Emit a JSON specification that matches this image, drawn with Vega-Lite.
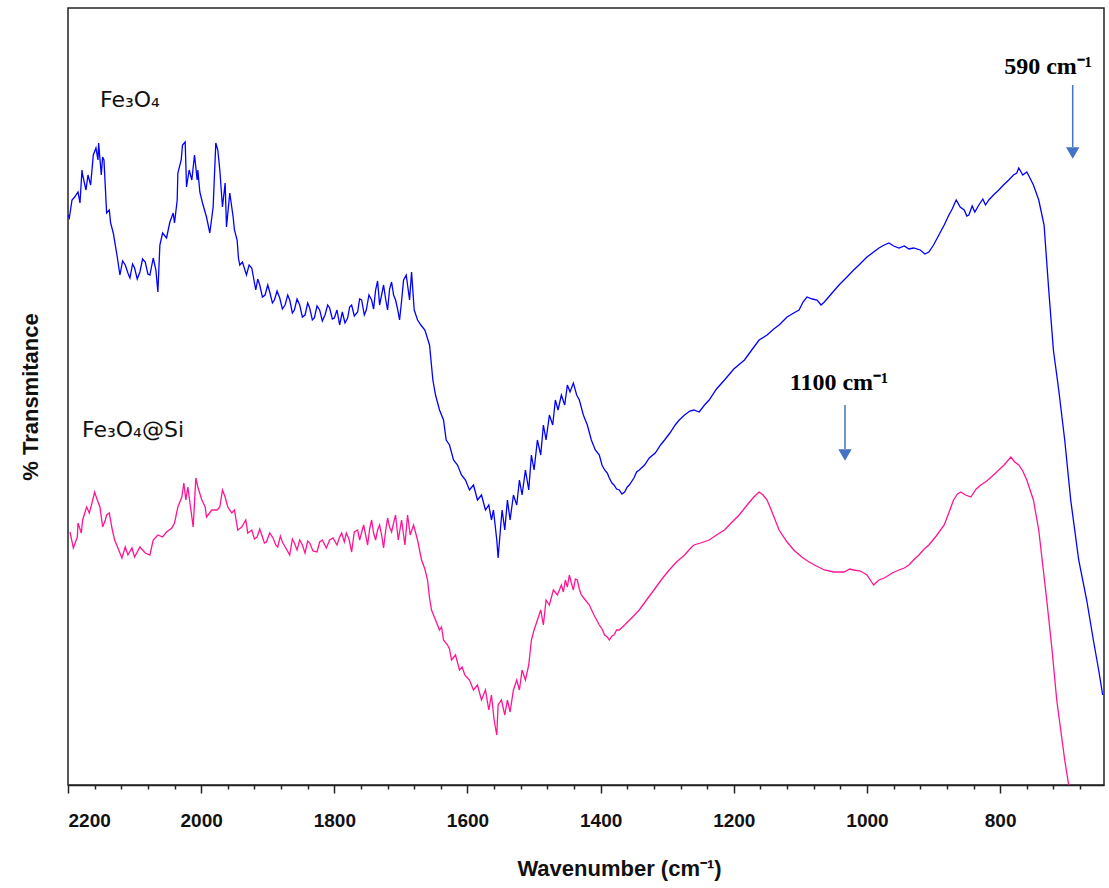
{
  "$schema": "https://vega.github.io/schema/vega-lite/v6.json",
  "autosize": "none",
  "width": 1036,
  "height": 777,
  "padding": {"left": 68, "top": 8, "right": 5, "bottom": 103},
  "background": "white",
  "config": {"view": {"stroke": "#222", "strokeWidth": 1.5}},
  "datasets": {
    "fe3o4": [
      {"wn":2200,"T":57.0},{"wn":2198,"T":56.7},{"wn":2194,"T":58.5},{"wn":2190,"T":58.8},{"wn":2185,"T":59.3},{"wn":2182,"T":58.2},{"wn":2179,"T":61.5},{"wn":2178,"T":61.0},{"wn":2173,"T":59.5},{"wn":2170,"T":61.0},{"wn":2166,"T":60.0},{"wn":2162,"T":63.0},{"wn":2158,"T":63.7},{"wn":2155,"T":62.5},{"wn":2154,"T":64.2},{"wn":2150,"T":61.0},{"wn":2148,"T":62.8},{"wn":2146,"T":62.5},{"wn":2142,"T":57.2},{"wn":2138,"T":57.5},{"wn":2136,"T":56.2},{"wn":2132,"T":55.2},{"wn":2126,"T":52.8},{"wn":2122,"T":51.0},{"wn":2118,"T":52.4},{"wn":2114,"T":52.0},{"wn":2110,"T":51.2},{"wn":2107,"T":50.7},{"wn":2103,"T":52.1},{"wn":2100,"T":51.7},{"wn":2096,"T":50.6},{"wn":2092,"T":51.3},{"wn":2088,"T":52.6},{"wn":2084,"T":52.3},{"wn":2080,"T":51.1},{"wn":2077,"T":51.0},{"wn":2072,"T":52.7},{"wn":2068,"T":51.5},{"wn":2065,"T":49.3},{"wn":2062,"T":54.0},{"wn":2058,"T":55.2},{"wn":2052,"T":54.7},{"wn":2047,"T":56.3},{"wn":2042,"T":57.2},{"wn":2040,"T":56.2},{"wn":2036,"T":58.5},{"wn":2035,"T":61.2},{"wn":2030,"T":62.5},{"wn":2028,"T":64.0},{"wn":2024,"T":64.3},{"wn":2022,"T":59.8},{"wn":2018,"T":61.5},{"wn":2014,"T":60.5},{"wn":2010,"T":63.0},{"wn":2006,"T":60.5},{"wn":2005,"T":61.5},{"wn":2002,"T":59.3},{"wn":1998,"T":58.2},{"wn":1992,"T":56.8},{"wn":1987,"T":55.2},{"wn":1982,"T":57.8},{"wn":1978,"T":64.2},{"wn":1975,"T":63.5},{"wn":1972,"T":61.5},{"wn":1968,"T":57.8},{"wn":1964,"T":60.2},{"wn":1962,"T":55.8},{"wn":1957,"T":59.2},{"wn":1952,"T":56.8},{"wn":1950,"T":55.5},{"wn":1946,"T":54.5},{"wn":1944,"T":52.7},{"wn":1942,"T":52.0},{"wn":1938,"T":52.3},{"wn":1932,"T":51.0},{"wn":1928,"T":52.0},{"wn":1924,"T":51.7},{"wn":1918,"T":49.5},{"wn":1915,"T":50.6},{"wn":1912,"T":50.0},{"wn":1908,"T":48.8},{"wn":1904,"T":49.0},{"wn":1900,"T":50.0},{"wn":1897,"T":49.3},{"wn":1893,"T":48.2},{"wn":1890,"T":48.5},{"wn":1886,"T":49.4},{"wn":1882,"T":48.7},{"wn":1878,"T":47.6},{"wn":1874,"T":48.0},{"wn":1870,"T":49.0},{"wn":1867,"T":48.5},{"wn":1863,"T":47.2},{"wn":1860,"T":47.5},{"wn":1856,"T":48.6},{"wn":1852,"T":48.0},{"wn":1848,"T":46.8},{"wn":1844,"T":47.0},{"wn":1840,"T":48.2},{"wn":1837,"T":47.7},{"wn":1833,"T":46.5},{"wn":1830,"T":46.7},{"wn":1826,"T":47.9},{"wn":1822,"T":47.5},{"wn":1818,"T":46.4},{"wn":1814,"T":47.0},{"wn":1810,"T":48.0},{"wn":1807,"T":47.7},{"wn":1803,"T":46.6},{"wn":1800,"T":46.7},{"wn":1796,"T":47.5},{"wn":1792,"T":46.0},{"wn":1788,"T":47.3},{"wn":1784,"T":46.2},{"wn":1780,"T":46.7},{"wn":1777,"T":47.8},{"wn":1774,"T":48.0},{"wn":1770,"T":46.9},{"wn":1765,"T":47.3},{"wn":1762,"T":48.6},{"wn":1759,"T":48.5},{"wn":1755,"T":47.0},{"wn":1752,"T":47.5},{"wn":1748,"T":49.0},{"wn":1744,"T":48.5},{"wn":1741,"T":47.6},{"wn":1738,"T":49.5},{"wn":1735,"T":50.4},{"wn":1732,"T":48.0},{"wn":1729,"T":49.0},{"wn":1726,"T":50.0},{"wn":1723,"T":48.6},{"wn":1720,"T":47.5},{"wn":1717,"T":49.6},{"wn":1714,"T":50.3},{"wn":1711,"T":49.0},{"wn":1708,"T":48.5},{"wn":1705,"T":47.6},{"wn":1702,"T":46.5},{"wn":1699,"T":48.4},{"wn":1696,"T":50.5},{"wn":1692,"T":51.0},{"wn":1687,"T":48.5},{"wn":1684,"T":51.3},{"wn":1680,"T":47.5},{"wn":1675,"T":46.5},{"wn":1670,"T":46.0},{"wn":1664,"T":45.5},{"wn":1657,"T":44.0},{"wn":1652,"T":40.5},{"wn":1648,"T":39.0},{"wn":1642,"T":37.5},{"wn":1636,"T":36.5},{"wn":1632,"T":34.5},{"wn":1627,"T":34.0},{"wn":1621,"T":32.5},{"wn":1615,"T":32.0},{"wn":1609,"T":31.0},{"wn":1603,"T":30.5},{"wn":1597,"T":29.5},{"wn":1591,"T":30.0},{"wn":1585,"T":28.5},{"wn":1579,"T":29.0},{"wn":1573,"T":27.5},{"wn":1568,"T":28.0},{"wn":1564,"T":26.5},{"wn":1561,"T":27.5},{"wn":1556,"T":24.5},{"wn":1554,"T":22.7},{"wn":1550,"T":26.0},{"wn":1548,"T":27.5},{"wn":1544,"T":25.5},{"wn":1540,"T":28.5},{"wn":1536,"T":26.5},{"wn":1531,"T":29.0},{"wn":1526,"T":28.0},{"wn":1522,"T":30.5},{"wn":1518,"T":29.0},{"wn":1513,"T":31.5},{"wn":1508,"T":29.5},{"wn":1504,"T":33.0},{"wn":1500,"T":31.5},{"wn":1495,"T":34.5},{"wn":1490,"T":33.0},{"wn":1486,"T":36.0},{"wn":1482,"T":34.5},{"wn":1477,"T":37.0},{"wn":1472,"T":36.0},{"wn":1468,"T":38.5},{"wn":1464,"T":37.5},{"wn":1459,"T":39.0},{"wn":1454,"T":38.0},{"wn":1450,"T":40.0},{"wn":1446,"T":39.3},{"wn":1441,"T":40.2},{"wn":1436,"T":39.0},{"wn":1432,"T":38.5},{"wn":1426,"T":37.0},{"wn":1420,"T":36.0},{"wn":1414,"T":34.5},{"wn":1408,"T":33.5},{"wn":1402,"T":33.0},{"wn":1398,"T":32.0},{"wn":1394,"T":31.5},{"wn":1390,"T":31.2},{"wn":1387,"T":30.7},{"wn":1383,"T":30.2},{"wn":1380,"T":30.0},{"wn":1376,"T":29.6},{"wn":1372,"T":29.5},{"wn":1368,"T":29.1},{"wn":1364,"T":29.3},{"wn":1360,"T":29.8},{"wn":1357,"T":30.0},{"wn":1350,"T":30.7},{"wn":1346,"T":31.3},{"wn":1342,"T":31.5},{"wn":1334,"T":32.0},{"wn":1327,"T":32.7},{"wn":1318,"T":33.2},{"wn":1310,"T":34.0},{"wn":1304,"T":34.5},{"wn":1296,"T":35.2},{"wn":1288,"T":36.0},{"wn":1282,"T":36.5},{"wn":1274,"T":37.0},{"wn":1266,"T":37.4},{"wn":1260,"T":37.5},{"wn":1252,"T":37.3},{"wn":1244,"T":38.0},{"wn":1237,"T":38.5},{"wn":1226,"T":39.6},{"wn":1214,"T":40.5},{"wn":1200,"T":41.6},{"wn":1184,"T":42.5},{"wn":1172,"T":43.6},{"wn":1162,"T":44.5},{"wn":1150,"T":45.0},{"wn":1140,"T":45.6},{"wn":1132,"T":46.0},{"wn":1120,"T":46.8},{"wn":1110,"T":47.2},{"wn":1102,"T":47.5},{"wn":1096,"T":48.3},{"wn":1090,"T":48.8},{"wn":1082,"T":48.6},{"wn":1075,"T":48.5},{"wn":1069,"T":48.0},{"wn":1064,"T":48.3},{"wn":1055,"T":49.0},{"wn":1042,"T":50.0},{"wn":1030,"T":50.8},{"wn":1020,"T":51.5},{"wn":1012,"T":52.0},{"wn":1000,"T":52.8},{"wn":990,"T":53.3},{"wn":982,"T":53.7},{"wn":974,"T":54.0},{"wn":967,"T":54.2},{"wn":960,"T":53.9},{"wn":952,"T":53.7},{"wn":944,"T":53.9},{"wn":937,"T":53.6},{"wn":930,"T":53.7},{"wn":920,"T":53.5},{"wn":913,"T":53.1},{"wn":907,"T":53.3},{"wn":900,"T":54.0},{"wn":892,"T":55.0},{"wn":884,"T":56.0},{"wn":877,"T":57.0},{"wn":872,"T":57.6},{"wn":866,"T":58.5},{"wn":860,"T":57.8},{"wn":854,"T":57.5},{"wn":850,"T":56.9},{"wn":847,"T":57.0},{"wn":842,"T":57.9},{"wn":838,"T":57.3},{"wn":832,"T":58.0},{"wn":826,"T":58.6},{"wn":822,"T":58.0},{"wn":817,"T":58.5},{"wn":810,"T":59.0},{"wn":802,"T":59.5},{"wn":795,"T":60.0},{"wn":787,"T":60.5},{"wn":780,"T":61.0},{"wn":775,"T":61.2},{"wn":772,"T":61.7},{"wn":766,"T":61.0},{"wn":760,"T":61.3},{"wn":756,"T":60.8},{"wn":750,"T":60.0},{"wn":742,"T":58.5},{"wn":734,"T":56.0},{"wn":727,"T":49.5},{"wn":720,"T":43.5},{"wn":712,"T":39.5},{"wn":703,"T":34.5},{"wn":694,"T":28.5},{"wn":682,"T":22.5},{"wn":670,"T":18.5},{"wn":660,"T":14.5},{"wn":652,"T":11.5},{"wn":646,"T":9.0}
    ],
    "fe3o4si": [
      {"wn":2197,"T":25.3},{"wn":2192,"T":23.7},{"wn":2186,"T":24.8},{"wn":2185,"T":26.2},{"wn":2180,"T":25.2},{"wn":2178,"T":26.5},{"wn":2172,"T":27.8},{"wn":2168,"T":27.2},{"wn":2164,"T":28.2},{"wn":2160,"T":29.3},{"wn":2156,"T":28.5},{"wn":2152,"T":27.8},{"wn":2148,"T":25.8},{"wn":2144,"T":26.5},{"wn":2142,"T":27.0},{"wn":2138,"T":27.2},{"wn":2134,"T":25.7},{"wn":2130,"T":24.5},{"wn":2125,"T":23.7},{"wn":2119,"T":22.7},{"wn":2114,"T":23.8},{"wn":2110,"T":23.0},{"wn":2104,"T":23.7},{"wn":2100,"T":22.8},{"wn":2092,"T":23.8},{"wn":2084,"T":23.2},{"wn":2077,"T":23.0},{"wn":2072,"T":24.5},{"wn":2065,"T":25.0},{"wn":2058,"T":24.8},{"wn":2052,"T":25.3},{"wn":2044,"T":25.7},{"wn":2040,"T":26.2},{"wn":2035,"T":27.8},{"wn":2029,"T":28.8},{"wn":2026,"T":30.2},{"wn":2023,"T":28.5},{"wn":2020,"T":29.8},{"wn":2016,"T":27.8},{"wn":2012,"T":25.8},{"wn":2008,"T":30.7},{"wn":2005,"T":29.8},{"wn":1999,"T":28.5},{"wn":1994,"T":27.8},{"wn":1992,"T":26.8},{"wn":1984,"T":27.5},{"wn":1976,"T":27.5},{"wn":1972,"T":27.8},{"wn":1968,"T":29.5},{"wn":1964,"T":28.8},{"wn":1960,"T":27.8},{"wn":1954,"T":27.2},{"wn":1950,"T":27.5},{"wn":1945,"T":25.5},{"wn":1939,"T":25.8},{"wn":1933,"T":26.5},{"wn":1930,"T":25.2},{"wn":1924,"T":25.5},{"wn":1920,"T":24.6},{"wn":1916,"T":24.8},{"wn":1912,"T":25.6},{"wn":1909,"T":25.0},{"wn":1905,"T":24.2},{"wn":1902,"T":24.3},{"wn":1897,"T":25.2},{"wn":1892,"T":24.7},{"wn":1888,"T":24.0},{"wn":1885,"T":23.8},{"wn":1881,"T":24.9},{"wn":1878,"T":24.3},{"wn":1872,"T":23.6},{"wn":1867,"T":23.0},{"wn":1863,"T":24.6},{"wn":1860,"T":24.2},{"wn":1856,"T":23.5},{"wn":1852,"T":24.5},{"wn":1848,"T":24.0},{"wn":1844,"T":23.2},{"wn":1840,"T":24.4},{"wn":1837,"T":24.2},{"wn":1832,"T":23.4},{"wn":1826,"T":23.3},{"wn":1822,"T":24.3},{"wn":1818,"T":24.5},{"wn":1812,"T":23.7},{"wn":1807,"T":24.5},{"wn":1802,"T":24.7},{"wn":1796,"T":24.0},{"wn":1792,"T":24.8},{"wn":1789,"T":25.2},{"wn":1785,"T":24.3},{"wn":1782,"T":25.2},{"wn":1778,"T":24.6},{"wn":1774,"T":23.3},{"wn":1770,"T":25.3},{"wn":1765,"T":25.5},{"wn":1762,"T":24.5},{"wn":1756,"T":26.0},{"wn":1753,"T":25.0},{"wn":1750,"T":24.0},{"wn":1747,"T":25.6},{"wn":1744,"T":26.5},{"wn":1741,"T":25.2},{"wn":1738,"T":24.5},{"wn":1735,"T":25.5},{"wn":1732,"T":26.0},{"wn":1729,"T":25.0},{"wn":1726,"T":23.7},{"wn":1723,"T":25.4},{"wn":1720,"T":26.7},{"wn":1717,"T":25.8},{"wn":1714,"T":25.3},{"wn":1711,"T":26.2},{"wn":1708,"T":27.0},{"wn":1704,"T":24.5},{"wn":1699,"T":26.5},{"wn":1694,"T":24.0},{"wn":1690,"T":27.0},{"wn":1686,"T":25.0},{"wn":1681,"T":26.0},{"wn":1675,"T":24.5},{"wn":1669,"T":22.5},{"wn":1664,"T":21.6},{"wn":1660,"T":20.5},{"wn":1657,"T":18.7},{"wn":1654,"T":17.5},{"wn":1648,"T":16.5},{"wn":1642,"T":15.5},{"wn":1639,"T":15.8},{"wn":1636,"T":14.5},{"wn":1630,"T":14.0},{"wn":1627,"T":13.6},{"wn":1624,"T":12.5},{"wn":1618,"T":13.0},{"wn":1612,"T":11.5},{"wn":1608,"T":11.8},{"wn":1604,"T":11.0},{"wn":1597,"T":10.5},{"wn":1591,"T":9.5},{"wn":1585,"T":10.0},{"wn":1579,"T":8.5},{"wn":1573,"T":9.5},{"wn":1568,"T":7.5},{"wn":1564,"T":9.0},{"wn":1560,"T":6.5},{"wn":1556,"T":5.0},{"wn":1554,"T":8.0},{"wn":1549,"T":8.5},{"wn":1544,"T":7.0},{"wn":1540,"T":8.5},{"wn":1536,"T":7.3},{"wn":1531,"T":9.5},{"wn":1526,"T":10.5},{"wn":1522,"T":9.5},{"wn":1518,"T":11.5},{"wn":1513,"T":10.5},{"wn":1508,"T":12.0},{"wn":1504,"T":14.5},{"wn":1500,"T":15.5},{"wn":1495,"T":16.5},{"wn":1490,"T":17.5},{"wn":1486,"T":16.0},{"wn":1482,"T":18.5},{"wn":1477,"T":18.0},{"wn":1471,"T":19.5},{"wn":1465,"T":19.0},{"wn":1459,"T":20.0},{"wn":1456,"T":19.3},{"wn":1453,"T":20.5},{"wn":1450,"T":19.8},{"wn":1447,"T":21.0},{"wn":1444,"T":20.2},{"wn":1441,"T":19.5},{"wn":1438,"T":20.6},{"wn":1435,"T":20.5},{"wn":1432,"T":19.6},{"wn":1429,"T":19.0},{"wn":1423,"T":18.5},{"wn":1417,"T":18.0},{"wn":1410,"T":17.0},{"wn":1402,"T":16.0},{"wn":1398,"T":15.6},{"wn":1394,"T":15.0},{"wn":1390,"T":14.8},{"wn":1387,"T":14.5},{"wn":1383,"T":14.9},{"wn":1380,"T":15.0},{"wn":1376,"T":15.5},{"wn":1372,"T":15.5},{"wn":1364,"T":16.0},{"wn":1352,"T":16.8},{"wn":1342,"T":17.5},{"wn":1330,"T":18.6},{"wn":1320,"T":19.5},{"wn":1308,"T":20.6},{"wn":1297,"T":21.5},{"wn":1286,"T":22.3},{"wn":1274,"T":23.0},{"wn":1266,"T":23.6},{"wn":1260,"T":24.0},{"wn":1250,"T":24.2},{"wn":1237,"T":24.5},{"wn":1226,"T":25.0},{"wn":1214,"T":25.5},{"wn":1204,"T":26.2},{"wn":1192,"T":27.0},{"wn":1180,"T":28.0},{"wn":1170,"T":28.8},{"wn":1162,"T":29.3},{"wn":1156,"T":29.0},{"wn":1150,"T":28.5},{"wn":1142,"T":27.2},{"wn":1132,"T":25.5},{"wn":1120,"T":24.3},{"wn":1110,"T":23.5},{"wn":1098,"T":22.8},{"wn":1087,"T":22.3},{"wn":1076,"T":21.9},{"wn":1064,"T":21.5},{"wn":1050,"T":21.3},{"wn":1034,"T":21.3},{"wn":1026,"T":21.6},{"wn":1020,"T":21.5},{"wn":1010,"T":21.4},{"wn":1000,"T":21.0},{"wn":994,"T":20.4},{"wn":990,"T":20.0},{"wn":982,"T":20.5},{"wn":974,"T":20.7},{"wn":962,"T":21.2},{"wn":952,"T":21.5},{"wn":944,"T":21.7},{"wn":937,"T":22.0},{"wn":930,"T":22.5},{"wn":922,"T":23.0},{"wn":914,"T":23.6},{"wn":907,"T":24.0},{"wn":896,"T":24.9},{"wn":884,"T":26.0},{"wn":876,"T":27.4},{"wn":870,"T":28.5},{"wn":864,"T":29.1},{"wn":859,"T":29.3},{"wn":852,"T":29.0},{"wn":844,"T":28.8},{"wn":836,"T":29.6},{"wn":829,"T":30.0},{"wn":820,"T":30.4},{"wn":810,"T":31.0},{"wn":802,"T":31.5},{"wn":794,"T":32.0},{"wn":784,"T":32.8},{"wn":778,"T":32.3},{"wn":772,"T":32.0},{"wn":766,"T":31.4},{"wn":760,"T":30.5},{"wn":750,"T":28.5},{"wn":742,"T":25.5},{"wn":736,"T":22.0},{"wn":730,"T":18.5},{"wn":722,"T":13.5},{"wn":715,"T":8.5},{"wn":703,"T":2.5},{"wn":697,"T":0.0}
    ],
    "samples": [
      {"label":"Fe₃O₄","wn":2152,"T":68.5},
      {"label":"Fe₃O₄@Si","wn":2179,"T":35.5}
    ],
    "peaks": [
      {"label":"590 cm⁻¹","wn":728,"T":71.8},
      {"label":"1100 cm⁻¹","wn":1042,"T":40.2}
    ],
    "arrows": [
      {"wn":691,"T":70.0,"T2":63.8},
      {"wn":1033,"T":38.0,"T2":33.6}
    ],
    "heads": [
      {"wn":691,"T":63.2},
      {"wn":1033,"T":33.0}
    ]
  },
  "encoding": {
    "x": {
      "field": "wn", "type": "quantitative",
      "scale": {"domain": [644, 2200], "reverse": true, "nice": false, "zero": false},
      "axis": {
        "title": "Wavenumber (cm⁻¹)",
        "values": [2200,2160,2120,2080,2040,2000,1960,1920,1880,1840,1800,1760,1720,1680,1640,1600,1560,1520,1480,1440,1400,1360,1320,1280,1240,1200,1160,1120,1080,1040,1000,960,920,880,840,800,760,720,680],
        "format": "d",
        "labelExpr": "datum.value % 200 === 0 ? datum.label : ''",
        "labelOverlap": false,
        "labelFont": "Liberation Sans",
        "labelFontWeight": "bold",
        "labelFontSize": 19,
        "labelColor": "#111",
        "labelPadding": 18,
        "labelDx": 6,
        "tickSize": {"condition": {"test": "datum.value % 200 === 0", "value": 8}, "value": 4},
        "tickColor": "#222",
        "tickWidth": 1.5,
        "domainColor": "#222",
        "domainWidth": 1.5,
        "grid": false,
        "titleFont": "Liberation Sans",
        "titleFontWeight": "bold",
        "titleFontSize": 22,
        "titleColor": "#111",
        "titlePadding": 28,
        "titleX": 551,
        "titleAlign": "center"
      }
    },
    "y": {
      "field": "T", "type": "quantitative",
      "scale": {"domain": [0, 77.7], "nice": false, "zero": false},
      "axis": {
        "title": "% Transmitance",
        "labels": false, "ticks": false, "domain": false, "grid": false,
        "titleFont": "Liberation Sans",
        "titleFontWeight": "bold",
        "titleFontSize": 22,
        "titleColor": "#111",
        "titlePadding": 26
      }
    }
  },
  "layer": [
    {
      "data": {"name": "fe3o4"},
      "mark": {"type": "line", "color": "#0000FF", "strokeWidth": 1.3, "clip": true}
    },
    {
      "data": {"name": "fe3o4si"},
      "mark": {"type": "line", "color": "#FF1493", "strokeWidth": 1.3, "clip": true}
    },
    {
      "data": {"name": "samples"},
      "mark": {"type": "text", "align": "left", "baseline": "middle", "font": "DejaVu Sans", "fontSize": 22, "color": "#111"},
      "encoding": {"text": {"field": "label"}}
    },
    {
      "data": {"name": "peaks"},
      "mark": {"type": "text", "align": "center", "baseline": "middle", "font": "Liberation Serif", "fontWeight": "bold", "fontSize": 24, "color": "#000"},
      "encoding": {"text": {"field": "label"}}
    },
    {
      "data": {"name": "arrows"},
      "mark": {"type": "rule", "color": "#4472C4", "strokeWidth": 1.5},
      "encoding": {"y2": {"field": "T2"}}
    },
    {
      "data": {"name": "heads"},
      "mark": {"type": "point", "shape": "triangle-down", "filled": true, "color": "#4472C4", "size": 180, "opacity": 1}
    }
  ]
}
